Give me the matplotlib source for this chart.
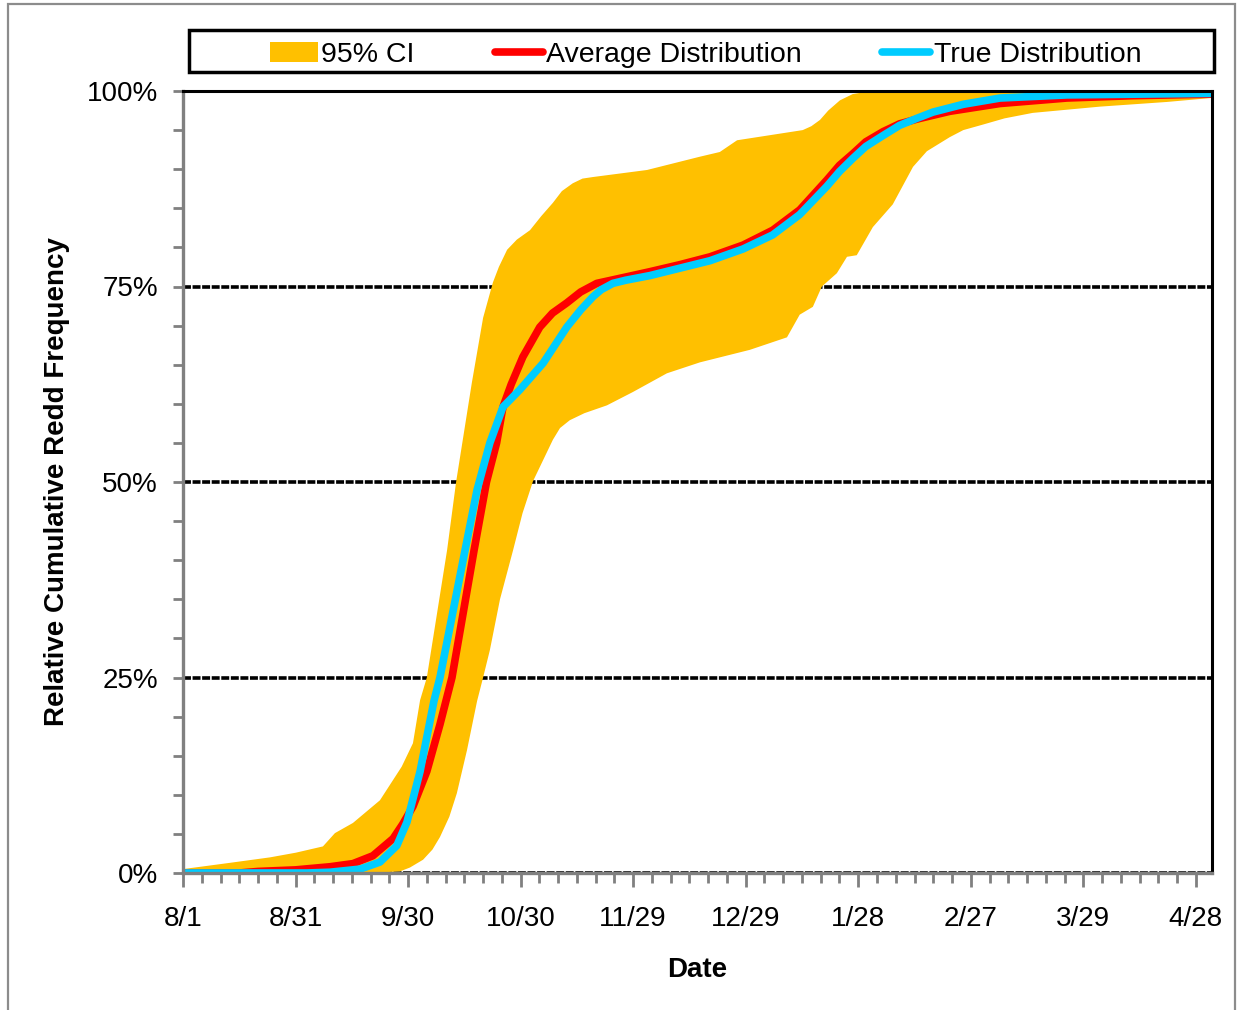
import matplotlib.pyplot as plt
from matplotlib.lines import Line2D
from matplotlib.patches import Patch, Rectangle
from matplotlib.ticker import FixedLocator, MultipleLocator

plt.rcParams["font.family"] = ["Liberation Sans", "DejaVu Sans"]

# x values are days since 8/1
date_ticks = [0, 30, 60, 90, 120, 150, 180, 210, 240, 270]
date_labels = ["8/1", "8/31", "9/30", "10/30", "11/29", "12/29",
               "1/28", "2/27", "3/29", "4/28"]
pct_ticks = [0, 25, 50, 75, 100]
pct_labels = ["0%", "25%", "50%", "75%", "100%"]

ci_upper_day = [0, 12.5, 23.2, 30.1, 37.3, 40.5, 45.3, 52.5, 58.3, 61.3, 63.2,
                65.0, 70.4, 72.8, 77.0, 80.0, 82.6, 84.2, 86.4, 89.0, 92.5,
                95.5, 98.6, 101.0, 103.9, 106.5, 109.3, 123.7, 137.8, 143.1,
                147.7, 165.2, 167.5, 169.8, 172.0, 175.1, 178.5, 182.3, 274]
ci_upper_pct = [0.5, 1.3, 2.0, 2.6, 3.4, 5.1, 6.4, 9.3, 13.6, 16.6, 22.1,
                25.0, 41.3, 50.0, 62.7, 71.0, 75.5, 77.5, 79.7, 81.0, 82.2,
                84.0, 85.7, 87.2, 88.2, 88.8, 89.0, 89.9, 91.6, 92.2,
                93.7, 95.0, 95.5, 96.3, 97.5, 98.8, 99.6, 99.9, 100]

ci_lower_day = [0, 50.0, 57.8, 60.5, 64.0, 66.5, 68.5, 71.0, 73.0, 75.7, 78.4,
                80.0, 81.8, 84.5, 88.0, 90.5, 93.3, 96.0, 98.6, 100.5, 103.1,
                107.0, 113.0, 119.9, 129.0, 137.8, 151.1, 161.0, 164.4, 167.9,
                170.3, 174.3, 177.0, 179.6, 183.9, 189.2, 194.6, 198.3, 204.4,
                208.0, 213.2, 219.0, 226.5, 244.4, 262.3, 274]
ci_lower_pct = [0, 0, 0.2, 0.7, 1.7, 3.0, 4.6, 7.2, 10.2, 15.7, 22.0,
                25.0, 28.5, 35.0, 41.3, 46.0, 50.1, 52.8, 55.4, 56.9, 57.9,
                58.8, 59.8, 61.5, 63.9, 65.3, 66.9, 68.5, 71.4, 72.4,
                75.0, 76.7, 78.8, 79.0, 82.6, 85.5, 90.3, 92.3, 94.1,
                95.0, 95.7, 96.5, 97.2, 98.0, 98.6, 99.1]

avg_day = [0, 15, 20, 30, 39.2, 45.3, 50.6, 56.0, 58.5, 61.3, 65.0, 68.5,
           71.7, 77.6, 80.9, 83.6, 85.3, 87.5, 90.6, 95.1, 98.5, 102.3, 106.0,
           110.3, 116.0, 124.5, 132.5, 140.5, 149.3, 157.2, 164.4, 171.6,
           175.0, 178.6, 182.0, 186.6, 191.0, 195.6, 204.4, 217.8, 235.6,
           253.2, 274]
avg_pct = [0, 0, 0.2, 0.4, 0.8, 1.2, 2.2, 4.4, 6.2, 8.5, 13.0, 19.0,
           25.0, 41.3, 50.0, 55.0, 59.6, 62.5, 66.0, 69.8, 71.6, 72.9, 74.3,
           75.4, 76.0, 76.9, 77.8, 78.8, 80.3, 82.2, 84.8, 88.6,
           90.5, 92.0, 93.5, 94.8, 95.8, 96.4, 97.4, 98.4, 99.1,
           99.4, 99.6]

true_day = [0, 33, 39.2, 47.2, 52.5, 57.0, 59.7, 63.2, 66.9, 68.5, 75.2,
            78.4, 81.8, 85.3, 89.8, 96.0, 102.3, 106.0, 109.3, 111.5, 114.6,
            118.0, 124.5, 140.5, 149.3, 157.2, 164.4, 171.6, 175.0, 178.6,
            182.0, 186.6, 191.0, 195.6, 199.9, 208.0, 217.8, 235.6, 274]
true_pct = [0, 0, 0.1, 0.5, 1.4, 3.5, 6.5, 13.0, 22.0, 25.0, 41.3,
            49.0, 55.0, 59.6, 61.8, 65.2, 69.8, 72.0, 73.7, 74.6, 75.4,
            75.8, 76.4, 78.3, 79.8, 81.6, 84.2, 87.8, 89.7, 91.4,
            92.9, 94.3, 95.6, 96.5, 97.3, 98.3, 99.1, 99.5, 99.7]

W, H = 1238, 1010
GOLD = "#FFC000"
RED = "#FF0000"
CYAN = "#00CCFF"
GREY = "#808080"


def main():
    fig = plt.figure(figsize=(W / 100, H / 100), dpi=100)
    ax = fig.add_axes([183 / W, 1 - 873 / H, (1212 - 183) / W, (873 - 91) / H])

    ax.fill(ci_upper_day + ci_lower_day[::-1], ci_upper_pct + ci_lower_pct[::-1],
            color=GOLD, lw=0, zorder=2)
    ax.plot(avg_day, avg_pct, color=RED, lw=5.5, zorder=3)
    ax.plot(true_day, true_pct, color=CYAN, lw=5.5, zorder=4)

    ax.set_xlim(0, 274.3)
    ax.set_ylim(0, 100)

    ax.xaxis.set_major_locator(FixedLocator(date_ticks))
    ax.set_xticklabels(date_labels)
    ax.xaxis.set_minor_locator(MultipleLocator(5))
    ax.yaxis.set_major_locator(FixedLocator(pct_ticks))
    ax.set_yticklabels(pct_labels)
    ax.yaxis.set_minor_locator(MultipleLocator(5))

    ax.tick_params(axis="x", which="major", length=10, width=2, color=GREY,
                   labelsize=20, pad=14)
    ax.tick_params(axis="x", which="minor", length=7, width=2, color=GREY)
    ax.tick_params(axis="y", which="both", length=7, width=2, color=GREY,
                   labelsize=20, pad=11)

    ax.grid(axis="y", which="major", color="black", lw=2.6,
            linestyle=(0, (2.2, 0.45)), zorder=1)
    ax.set_axisbelow(True)

    for side in ("left", "bottom"):
        ax.spines[side].set_color(GREY)
        ax.spines[side].set_linewidth(2.4)
        ax.spines[side].set_zorder(6)
    for side in ("top", "right"):
        ax.spines[side].set_color("black")
        ax.spines[side].set_linewidth(2.2)
        ax.spines[side].set_zorder(6)

    ax.set_xlabel("Date", fontsize=20, fontweight="bold")
    ax.xaxis.set_label_coords(0.5, -0.107)
    ax.set_ylabel("Relative Cumulative Redd Frequency", fontsize=20,
                  fontweight="bold")
    ax.yaxis.set_label_coords(-0.11, 0.5)

    handles = [
        Patch(facecolor=GOLD, edgecolor="none"),
        Line2D([], [], color=RED, lw=5.5, solid_capstyle="round"),
        Line2D([], [], color=CYAN, lw=5.5, solid_capstyle="round"),
    ]
    labels = ["95% CI", "Average Distribution", "True Distribution"]
    fig.legend(handles, labels, loc="center",
               bbox_to_anchor=(705.5 / W, 1 - 55 / H), ncol=3, frameon=False,
               fontsize=20.5, handlelength=1.7, handletextpad=0.12,
               columnspacing=2.8, borderpad=0)
    fig.patches.append(Rectangle((189 / W, 1 - 72 / H), (1214 - 189) / W, 42 / H,
                                 transform=fig.transFigure, fill=False,
                                 ec="black", lw=2.5))
    # outer chart border
    fig.patches.append(Rectangle((8 / W, -0.02), (1235 - 8) / W, 1.016,
                                 transform=fig.transFigure, fill=False,
                                 ec="#8c8c8c", lw=1.6))

    fig.savefig("out.png", dpi=100)
    plt.close(fig)


if __name__ == "__main__":
    main()
